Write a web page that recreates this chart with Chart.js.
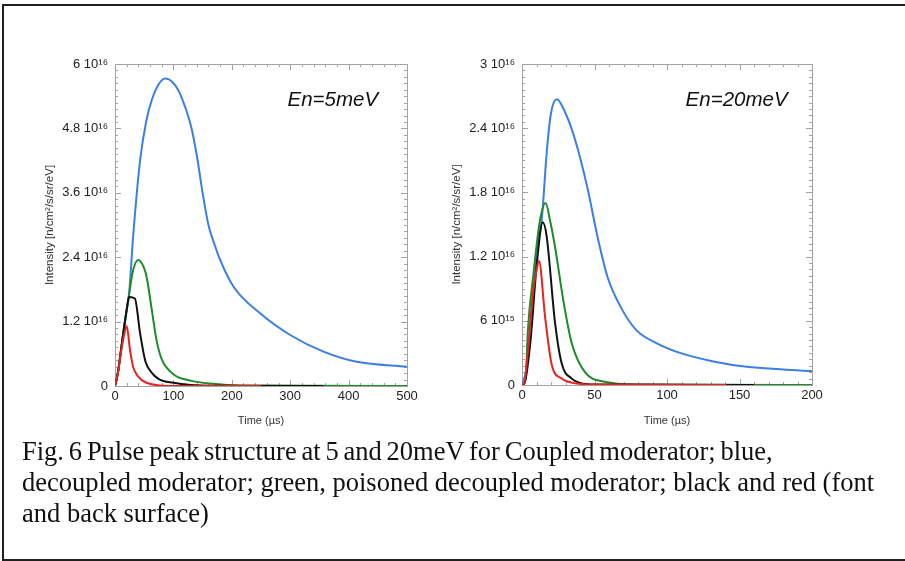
<!DOCTYPE html>
<html><head><meta charset="utf-8">
<script src="https://cdn.jsdelivr.net/npm/chart.js@4.4.1/dist/chart.umd.min.js"></script>
<style>
html,body{margin:0;padding:0;background:#fff;}
body{width:905px;height:561px;position:relative;overflow:hidden;}
#frame{position:absolute;left:2px;top:4px;width:960px;height:557px;box-sizing:border-box;border:2px solid #231f20;border-right:none;}
canvas{position:absolute;top:0;}
#caption{position:absolute;left:22px;top:436px;font-family:"Liberation Serif","Times New Roman",serif;font-size:26.5px;line-height:31px;color:#111;white-space:nowrap;}
#caption .l1{word-spacing:-1.8px;}
</style></head>
<body>
<div id="frame"></div>
<canvas id="c1" width="430" height="440" style="left:0px"></canvas>
<canvas id="c2" width="440" height="440" style="left:430px"></canvas>
<div id="caption"><span class="l1">Fig. 6 Pulse peak structure at 5 and 20meV for Coupled moderator; blue,</span><br>decoupled moderator; green, poisoned decoupled moderator; black and red (font<br>and back surface)</div>
<script>
// ---- data (intensity in units of 1e16 n/cm2/s/sr/eV, time in µs) ----
// En = 5 meV
const t5Blue  = [0,5,10,15,20,24,31,43,54,63,74,86,97,109,120,130,140,150,160,170,180,203,249,300,357,414,500];
const v5Blue  = [0,0.25,0.65,1.05,1.42,1.7,2.78,4.21,4.96,5.33,5.61,5.73,5.68,5.50,5.2,4.85,4.3,3.6,3.0,2.65,2.35,1.85,1.35,0.95,0.64,0.45,0.36];
const t5Green = [0,5,10,15,20,24,31,40,49,54,63,71,80,100,129,169,214,500];
const v5Green = [0,0.25,0.65,1.05,1.42,1.7,2.16,2.35,2.22,2.04,1.42,0.86,0.5,0.22,0.1,0.04,0.01,0];
const t5Black = [0,5,10,15,20,24,34,43,52,62,75,100,130,180,357];
const v5Black = [0,0.25,0.65,1.05,1.42,1.66,1.63,0.98,0.46,0.26,0.13,0.06,0.02,0.005,0];
const t5Red   = [0,5,10,15,20,25.7,31,40,54,77,110,250];
const v5Red   = [0,0.24,0.61,0.92,1.12,0.67,0.36,0.17,0.06,0.01,0,0];
// En = 20 meV
const t20Blue  = [0,3,5,8,11,13.6,17.2,20,24,29,36,45,52,59,68,79,93,109,132,155,200];
const v20Blue  = [0,0.15,0.45,0.9,1.3,1.54,2.2,2.54,2.67,2.57,2.32,1.85,1.39,1.01,0.73,0.51,0.39,0.30,0.22,0.17,0.13];
const t20Green = [0,2.5,4,8,12.3,16.3,19.3,22.8,28.5,34.3,43.4,57,80,200];
const v20Green = [0,0.05,0.5,1.05,1.53,1.70,1.54,1.29,0.79,0.39,0.12,0.03,0.005,0];
const t20Black = [0,1,5.7,10,14.3,17,22.8,27.4,34.3,40,50,160];
const v20Black = [0,0,0.39,1.1,1.52,1.39,0.58,0.2,0.06,0.02,0.005,0];
const t20Red   = [0,1,4.4,7.8,10,11.7,15.9,20.5,27.4,35,50,141];
const v20Red   = [0,0,0.36,0.89,1.07,1.16,0.64,0.19,0.06,0.02,0.005,0];

// ---- ticks ----
const xTicks5  = [0,100,200,300,400,500];
const xLabels5 = ['0','100','200','300','400','500'];
const yTicks5  = [0,1.2,2.4,3.6,4.8,6];
const yLabels5 = ['0','1.2 10¹⁶','2.4 10¹⁶','3.6 10¹⁶','4.8 10¹⁶','6 10¹⁶'];
const xTicks20  = [0,50,100,150,200];
const xLabels20 = ['0','50','100','150','200'];
const yTicks20  = [0,0.6,1.2,1.8,2.4,3];
const yLabels20 = ['0','6 10¹⁵','1.2 10¹⁶','1.8 10¹⁶','2.4 10¹⁶','3 10¹⁶'];

const COLORS = {blue:'#3b7ee6', green:'#1f8a2a', black:'#111111', red:'#e8221f'};
Chart.defaults.font.family = '"Liberation Sans", Arial, sans-serif';

function pts(t, v){ return t.map((x,i)=>({x:x, y:v[i]})); }

const frameTicks = {
  id:'frameTicks',
  beforeDatasetsDraw(chart, args, o){
    const {ctx, chartArea:a, scales:{x, y}} = chart;
    ctx.save();
    ctx.strokeStyle = '#a3a3a3'; ctx.lineWidth = 1;
    ctx.strokeRect(Math.round(a.left)+0.5, Math.round(a.top)+0.5, Math.round(a.right-a.left), Math.round(a.bottom-a.top));
    ctx.beginPath();
    const nx = Math.round((x.max - x.min)/o.xMinor);
    for (let i=0;i<=nx;i++){
      const v = x.min + i*o.xMinor;
      const major = i % o.xEvery === 0;
      const L = major ? 6 : 3;
      const px = Math.round(x.getPixelForValue(v)) + 0.5;
      ctx.moveTo(px, a.bottom); ctx.lineTo(px, a.bottom - L);
      ctx.moveTo(px, a.top); ctx.lineTo(px, a.top + L);
    }
    const ny = Math.round((y.max - y.min)/o.yMinor);
    for (let i=0;i<=ny;i++){
      const v = y.min + i*o.yMinor;
      const major = i % o.yEvery === 0;
      const L = major ? 6 : 3;
      const py = Math.round(y.getPixelForValue(v)) + 0.5;
      ctx.moveTo(a.left, py); ctx.lineTo(a.left + L, py);
      ctx.moveTo(a.right, py); ctx.lineTo(a.right - L, py);
    }
    ctx.stroke();
    ctx.restore();
  },
  afterDatasetsDraw(chart, args, o){
    const {ctx, scales:{x, y}} = chart;
    ctx.save();
    ctx.font = 'italic 20.5px "Liberation Sans", Arial, sans-serif';
    ctx.fillStyle = '#111';
    ctx.textAlign = 'center'; ctx.textBaseline = 'middle';
    ctx.fillText(o.note, x.getPixelForValue(o.noteX), y.getPixelForValue(o.noteY));
    ctx.restore();
  }
};

function makeChart(id, series, xr, yr, opts){
  const ds = series.map(s => ({
    data: pts(s.t, s.v), borderColor: s.c, borderWidth: 2, pointRadius: 0,
    cubicInterpolationMode: 'monotone', fill: false
  }));
  return new Chart(document.getElementById(id), {
    type: 'line',
    data: { datasets: ds },
    options: {
      responsive: false, animation: false,
      layout: { padding: opts.pad },
      plugins: { legend:{display:false}, tooltip:{enabled:false}, frameTicks: opts.ft },
      scales: {
        x: {
          type:'linear', min: xr.ticks[0], max: xr.ticks[xr.ticks.length-1],
          afterBuildTicks: s => { s.ticks = xr.ticks.map(v => ({value:v})); },
          afterFit: s => { s.height = opts.xh; },
          ticks: { callback: (v,i) => xr.labels[i], color:'#222', font:{size:13}, padding:3, maxRotation:0, autoSkip:false },
          grid: { display:false, drawTicks:false }, border:{display:false},
          title: { display:true, text:'Time (µs)', color:'#333', font:{size:11}, padding:{top:0,bottom:12} }
        },
        y: {
          type:'linear', min: yr.ticks[0], max: yr.ticks[yr.ticks.length-1],
          afterBuildTicks: s => { s.ticks = yr.ticks.map(v => ({value:v})); },
          afterFit: s => { s.width = opts.yw; },
          ticks: { callback: (v,i) => yr.labels[i], color:'#222', font:{size:13}, padding:7, autoSkip:false },
          grid: { display:false, drawTicks:false }, border:{display:false},
          title: { display:true, text:'Intensity [n/cm²/s/sr/eV]', color:'#333', font:{size:11.5}, padding:{top:opts.ytp, bottom:0} }
        }
      }
    },
    plugins: [frameTicks]
  });
}

makeChart('c1', [
  {t:t5Red, v:v5Red, c:COLORS.red},
  {t:t5Black, v:v5Black, c:COLORS.black},
  {t:t5Green, v:v5Green, c:COLORS.green},
  {t:t5Blue, v:v5Blue, c:COLORS.blue}
], {ticks:xTicks5, labels:xLabels5}, {ticks:yTicks5, labels:yLabels5},
{ pad:{left:0, right:23, top:64, bottom:0}, xh:54, yw:115, ytp:43,
  ft:{xMinor:20, xEvery:5, yMinor:0.12, yEvery:10, note:'En=5meV', noteX:373, noteY:5.33} });

makeChart('c2', [
  {t:t20Red, v:v20Red, c:COLORS.red},
  {t:t20Black, v:v20Black, c:COLORS.black},
  {t:t20Green, v:v20Green, c:COLORS.green},
  {t:t20Blue, v:v20Blue, c:COLORS.blue}
], {ticks:xTicks20, labels:xLabels20}, {ticks:yTicks20, labels:yLabels20},
{ pad:{left:0, right:58, top:64, bottom:0}, xh:55, yw:92, ytp:20,
  ft:{xMinor:10, xEvery:5, yMinor:0.06, yEvery:10, note:'En=20meV', noteX:148, noteY:2.66} });
</script>
</body></html>
